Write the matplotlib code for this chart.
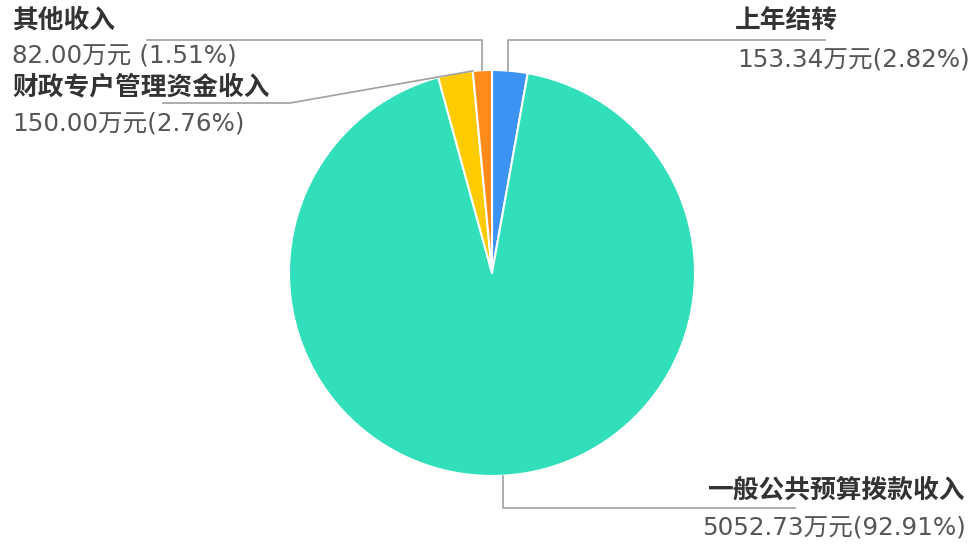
import matplotlib.pyplot as plt
import numpy as np

plt.rcParams['font.family'] = ['Noto Sans CJK SC', 'DejaVu Sans']

# 数据
names = ['上年结转', '一般公共预算拨款收入', '财政专户管理资金收入', '其他收入']
values = [153.34, 5052.73, 150.00, 82.00]
pcts = ['2.82%', '92.91%', '2.76%', '1.51%']
colors = ['#3d93f4', '#31dfbb', '#fecb02', '#fe8b1a']

W, H = 976, 545
fig = plt.figure(figsize=(W / 100, H / 100), dpi=100)
ax = fig.add_axes([0, 0, 1, 1])

cx, cy, r = 492, H - 273, 203
wedges, _ = ax.pie(values, colors=colors, startangle=90, counterclock=False,
                   center=(cx, cy), radius=r, frame=True,
                   wedgeprops=dict(edgecolor='white', linewidth=1.5, joinstyle='round'))
ax.set_xlim(0, W)
ax.set_ylim(0, H)
ax.set_aspect('equal')
ax.axis('off')

line_c = '#a0a0a0'
name_c = '#333333'
val_c = '#555555'
name_kw = dict(fontsize=18.5, fontweight='bold', color=name_c, va='center')
val_kw = dict(fontsize=17.7, color=val_c, va='center', family=['DejaVu Sans', 'Noto Sans CJK SC'])


def edge_point(w, frac=0.5):
    ang = np.deg2rad(w.theta1 + (w.theta2 - w.theta1) * frac)
    return cx + r * np.cos(ang), cy + r * np.sin(ang)


# 上年结转
x0, y0 = edge_point(wedges[0], 0.55)
ax.plot([x0, x0, 825], [y0, H - 40, H - 40], color=line_c, lw=1.2)
ax.text(735, H - 21, names[0], ha='left', **name_kw)
ax.text(970, H - 59, f'{values[0]:.2f}万元({pcts[0]})', ha='right', **val_kw)

# 一般公共预算拨款收入
x0, y0 = cx + 11, cy - np.sqrt(r ** 2 - 11 ** 2)
ax.plot([x0, x0, 795], [y0, H - 508, H - 508], color=line_c, lw=1.2)
ax.text(965, H - 490, names[1], ha='right', **name_kw)
ax.text(966, H - 527, f'{values[1]:.2f}万元({pcts[1]})', ha='right', **val_kw)

# 财政专户管理资金收入
x0, y0 = edge_point(wedges[2], 0.0)
ax.plot([x0, 290, 163], [y0, H - 103, H - 103], color=line_c, lw=1.2)
ax.text(12, H - 87, names[2], ha='left', **name_kw)
ax.text(12, H - 123, f'{values[2]:.2f}万元({pcts[2]})', ha='left', **val_kw)

# 其他收入
x0, y0 = edge_point(wedges[3], 0.5)
ax.plot([x0, x0, 147], [y0, H - 40, H - 40], color=line_c, lw=1.2)
ax.text(12, H - 20, names[3], ha='left', **name_kw)
ax.text(12, H - 56, f'{values[3]:.2f}万元 ({pcts[3]})', ha='left', **val_kw)

fig.savefig('out.png', dpi=100)
